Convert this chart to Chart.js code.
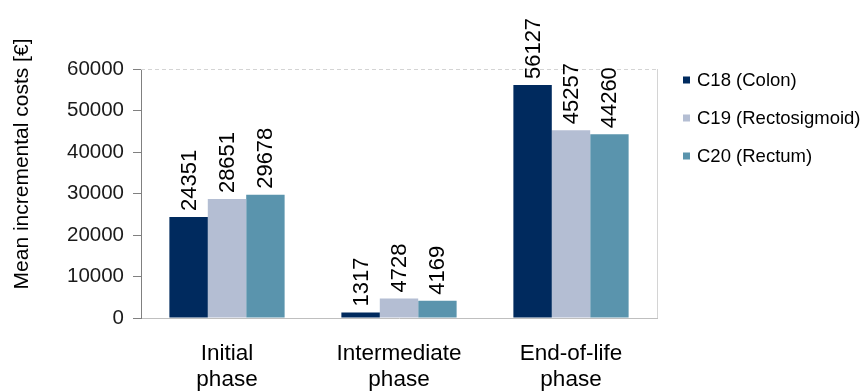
<!DOCTYPE html>
<html>
<head>
<meta charset="utf-8">
<script src="https://cdn.jsdelivr.net/npm/chart.js@4/dist/chart.umd.min.js"></script>
<style>
  html, body { margin: 0; padding: 0; background: #fff; }
  #wrap { width: 865px; height: 391px; }
</style>
</head>
<body>
<div id="wrap"><canvas id="costChart"></canvas></div>
<script>
const phases = [['Initial', 'phase'], ['Intermediate', 'phase'], ['End-of-life', 'phase']];
const colon = [24351, 1317, 56127];
const rectosigmoid = [28651, 4728, 45257];
const rectum = [29678, 4169, 44260];
const seriesNames = ['C18 (Colon)', 'C19 (Rectosigmoid)', 'C20 (Rectum)'];
const seriesColors = ['#002a5e', '#b4bed3', '#5a94ad'];
const yTicks = [0, 10000, 20000, 30000, 40000, 50000, 60000];
const yTitle = 'Mean incremental costs [€]';

const FONT = 'Liberation Sans, Arial, sans-serif';

// rotated numbers above each bar
const valueLabels = {
    id: 'valueLabels',
    afterDatasetsDraw(chart) {
        const ctx = chart.ctx;
        ctx.save();
        ctx.font = '22px ' + FONT;
        ctx.fillStyle = '#000';
        ctx.textAlign = 'left';
        ctx.textBaseline = 'middle';
        chart.data.datasets.forEach((ds, i) => {
            chart.getDatasetMeta(i).data.forEach((bar, j) => {
                ctx.save();
                ctx.translate(bar.x, bar.y - 6);
                ctx.rotate(-Math.PI / 2);
                ctx.fillText(String(ds.data[j]), 0, 1);
                ctx.restore();
            });
        });
        ctx.restore();
    }
};

// light frame on top (dashed) and right of the plot
const plotFrame = {
    id: 'plotFrame',
    beforeDatasetsDraw(chart) {
        const {ctx, chartArea: a} = chart;
        ctx.save();
        ctx.strokeStyle = '#d4d4d4';
        ctx.lineWidth = 1;
        ctx.setLineDash([4, 3]);
        ctx.beginPath();
        ctx.moveTo(a.left, a.top + 0.5);
        ctx.lineTo(a.right, a.top + 0.5);
        ctx.stroke();
        ctx.setLineDash([]);
        ctx.beginPath();
        ctx.moveTo(a.right + 0.5, a.top);
        ctx.lineTo(a.right + 0.5, a.bottom);
        ctx.stroke();
        ctx.restore();
    }
};

// axis title sits above the centre, as in the original
const yAxisTitle = {
    id: 'yAxisTitle',
    afterDraw(chart) {
        const {ctx, chartArea: a} = chart;
        ctx.save();
        ctx.translate(22, a.top + 95);
        ctx.rotate(-Math.PI / 2);
        ctx.font = '21px ' + FONT;
        ctx.fillStyle = '#000';
        ctx.textAlign = 'center';
        ctx.textBaseline = 'middle';
        ctx.fillText(yTitle, 0, 0);
        ctx.restore();
    }
};

// legend to the right of the plot
const sideLegend = {
    id: 'sideLegend',
    afterDraw(chart) {
        const {ctx, chartArea: a} = chart;
        ctx.save();
        ctx.font = '18.5px ' + FONT;
        ctx.textBaseline = 'middle';
        ctx.textAlign = 'left';
        chart.data.datasets.forEach((ds, i) => {
            const x = a.right + 26;
            const y = a.top + 11 + i * 38;
            ctx.fillStyle = ds.backgroundColor;
            ctx.fillRect(x, y - 3.5, 7, 7);
            ctx.fillStyle = '#000';
            ctx.fillText(ds.label, x + 14, y + 1);
        });
        ctx.restore();
    }
};

const ctx = document.getElementById('costChart').getContext('2d');

new Chart(ctx, {
    type: 'bar',
    data: {
        labels: phases,
        datasets: [colon, rectosigmoid, rectum].map((values, i) => ({
            label: seriesNames[i],
            data: values,
            backgroundColor: seriesColors[i],
            borderWidth: 0,
            categoryPercentage: 0.67,
            barPercentage: 1
        }))
    },
    options: {
        responsive: true,
        maintainAspectRatio: false,
        animation: false,
        layout: {
            padding: {top: 69, right: 208, bottom: 0, left: 0}
        },
        plugins: {
            legend: {display: false},
            tooltip: {enabled: false}
        },
        scales: {
            x: {
                grid: {display: false, drawTicks: false},
                border: {color: '#bfbfbf'},
                ticks: {
                    font: {family: FONT, size: 22.5, lineHeight: 1.15},
                    color: '#000',
                    padding: 23,
                    maxRotation: 0
                },
                afterFit: scale => { scale.height = 73; }
            },
            y: {
                min: yTicks[0],
                max: yTicks[yTicks.length - 1],
                ticks: {
                    stepSize: yTicks[1] - yTicks[0],
                    font: {family: FONT, size: 20.5},
                    color: '#1a1a1a',
                    padding: 9,
                    callback: v => String(v)
                },
                grid: {drawOnChartArea: false, tickLength: 8, color: '#808080'},
                border: {color: '#808080'},
                afterFit: scale => { scale.width = 141; }
            }
        }
    },
    plugins: [plotFrame, valueLabels, yAxisTitle, sideLegend]
});
</script>
</body>
</html>
